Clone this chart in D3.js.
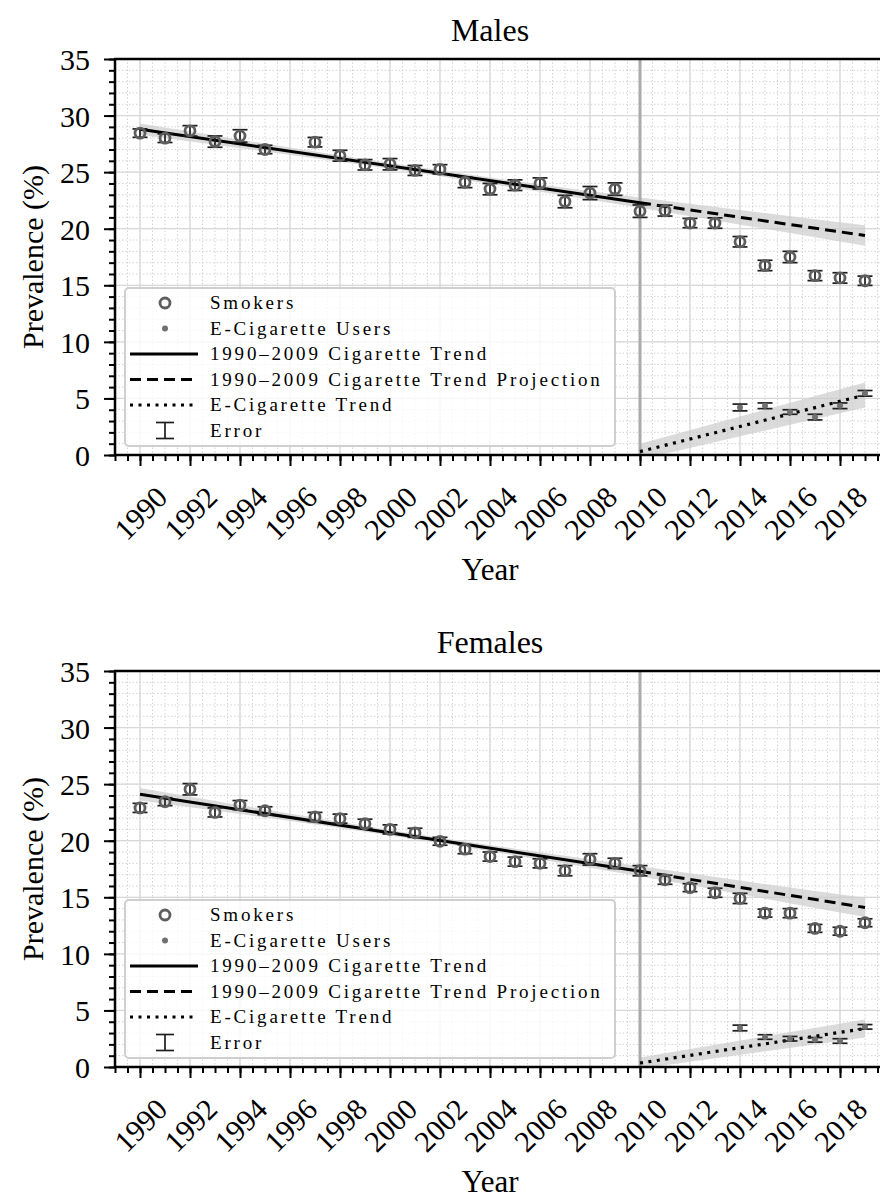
<!DOCTYPE html>
<html>
<head>
<meta charset="utf-8">
<script src="https://cdn.jsdelivr.net/npm/d3@7"></script>
<style>
  body { margin: 0; background: #fff; }
  svg text { font-family: "Liberation Serif", "DejaVu Serif", serif; fill: #000; }
</style>
</head>
<body>
<script>
// data
const years = [1990, 1991, 1992, 1993, 1994, 1995, 1997, 1998, 1999, 2000, 2001, 2002, 2003, 2004,
  2005, 2006, 2007, 2008, 2009, 2010, 2011, 2012, 2013, 2014, 2015, 2016, 2017, 2018, 2019];
const maleSmokers = [28.45, 28.0, 28.65, 27.7, 28.2, 27.0, 27.65, 26.45, 25.65, 25.7, 25.15, 25.25, 24.1, 23.5,
  23.85, 24.0, 22.4, 23.15, 23.5, 21.55, 21.6, 20.5, 20.5, 18.85, 16.75, 17.5, 15.85, 15.65, 15.4];
const maleSmokersErr = [0.37, 0.38, 0.46, 0.5, 0.55, 0.37, 0.42, 0.48, 0.46, 0.5, 0.44, 0.41, 0.47, 0.5,
  0.47, 0.49, 0.55, 0.58, 0.55, 0.55, 0.48, 0.41, 0.46, 0.46, 0.46, 0.5, 0.44, 0.46, 0.41];
const femaleSmokers = [22.9, 23.45, 24.55, 22.5, 23.15, 22.65, 22.1, 21.95, 21.5, 21.0, 20.7, 19.95, 19.25, 18.6,
  18.15, 18.0, 17.35, 18.35, 18.0, 17.35, 16.55, 15.85, 15.4, 14.9, 13.6, 13.6, 12.25, 12.0, 12.75];
const femaleSmokersErr = [0.4, 0.35, 0.5, 0.4, 0.4, 0.35, 0.4, 0.4, 0.4, 0.4, 0.4, 0.35, 0.4, 0.4,
  0.4, 0.4, 0.45, 0.5, 0.45, 0.45, 0.4, 0.35, 0.4, 0.45, 0.35, 0.4, 0.35, 0.35, 0.35];

const ecigYears = [2014, 2015, 2016, 2017, 2018, 2019];
const maleEcig = [4.2, 4.35, 3.8, 3.35, 4.35, 5.45];
const maleEcigErr = [0.3, 0.25, 0.2, 0.25, 0.25, 0.25];
const femaleEcig = [3.45, 2.65, 2.5, 2.4, 2.3, 3.55];
const femaleEcigErr = [0.25, 0.2, 0.2, 0.2, 0.2, 0.2];

// trend lines: 1990-2010 fit, projection to 2019
const trendYears = [1990, 2010, 2019];
const maleTrend = [28.8, 22.3, 19.4];
const femaleTrend = [24.1, 17.3, 14.1];
const bandYears = [1990, 1995, 2000, 2005, 2010, 2015, 2019];
const maleBandHalf = [0.5, 0.35, 0.25, 0.3, 0.45, 0.7, 0.9];
const femaleBandHalf = [0.55, 0.35, 0.25, 0.3, 0.45, 0.65, 0.85];

const ecigTrendYears = [2010, 2019];
const maleEcigTrend = [0.3, 5.3];
const femaleEcigTrend = [0.35, 3.4];
const maleEcigBandHalf = [0.7, 1.1];
const femaleEcigBandHalf = [0.5, 0.8];

const xMajorTicks = d3.range(1990, 2019, 2);
const xMinorTicks = d3.range(1989, 2020.01, 0.5);
const yMajorTicks = [0, 5, 10, 15, 20, 25, 30, 35];
const yMinorTicks = d3.range(0, 36, 1);

const legendLabels = ["Smokers", "E-Cigarette Users", "1990\u20132009 Cigarette Trend",
  "1990\u20132009 Cigarette Trend Projection", "E-Cigarette Trend", "Error"];

// layout
const W = 880, H = 1198;
const left = 115, right = 890;
const plotH = 396;

const svg = d3.select("body").append("svg").attr("width", W).attr("height", H);

let x = d3.scaleLinear().domain([1989, 2020]).range([left, right]);

let panel = (top, title, smokers, smokersErr, ecig, ecigErr, trend, bandHalf, ecigTrend, ecigBandHalf, id) => {
  let y = d3.scaleLinear().domain([0, 35]).range([top + plotH, top]);
  let g = svg.append("g");

  g.append("clipPath").attr("id", "clip" + id)
    .append("rect").attr("x", left).attr("y", top).attr("width", right - left).attr("height", plotH);

  // grid
  let grid = g.append("g");
  grid.selectAll(".vmin").data(xMinorTicks).enter().append("line")
    .attr("x1", d => x(d)).attr("x2", d => x(d)).attr("y1", top).attr("y2", top + plotH)
    .attr("stroke", "#d4d4d4").attr("stroke-width", 1).attr("stroke-dasharray", "1.5,2");
  grid.selectAll(".hmin").data(yMinorTicks).enter().append("line")
    .attr("x1", left).attr("x2", right).attr("y1", d => y(d)).attr("y2", d => y(d))
    .attr("stroke", "#d4d4d4").attr("stroke-width", 1).attr("stroke-dasharray", "1.5,2");
  grid.selectAll(".vmaj").data(xMajorTicks).enter().append("line")
    .attr("x1", d => x(d)).attr("x2", d => x(d)).attr("y1", top).attr("y2", top + plotH)
    .attr("stroke", "#d8d8d8").attr("stroke-width", 1.3);
  grid.selectAll(".hmaj").data(yMajorTicks).enter().append("line")
    .attr("x1", left).attr("x2", right).attr("y1", d => y(d)).attr("y2", d => y(d))
    .attr("stroke", "#d8d8d8").attr("stroke-width", 1.3);

  let plot = g.append("g").attr("clip-path", `url(#clip${id})`);

  // confidence bands
  let trendAt = d3.scaleLinear().domain(trendYears).range(trend);
  let band = bandYears.map((yr, i) => ({ yr: yr, lo: trendAt(yr) - bandHalf[i], hi: trendAt(yr) + bandHalf[i] }));
  let area = d3.area().x(d => x(d.yr)).y0(d => y(d.lo)).y1(d => y(d.hi)).curve(d3.curveMonotoneX);
  plot.append("path").datum(band).attr("d", area).attr("fill", "#cccccc").attr("opacity", 0.7);

  let ecigBand = ecigTrendYears.map((yr, i) => ({ yr: yr, lo: ecigTrend[i] - ecigBandHalf[i], hi: ecigTrend[i] + ecigBandHalf[i] }));
  plot.append("path").datum(ecigBand).attr("d", area).attr("fill", "#cccccc").attr("opacity", 0.7);

  // 2010 marker line
  plot.append("line").attr("x1", x(2010)).attr("x2", x(2010)).attr("y1", top).attr("y2", top + plotH)
    .attr("stroke", "#aaa").attr("stroke-width", 3);

  // trend lines
  let line = d3.line().x(d => x(d[0])).y(d => y(d[1]));
  plot.append("path").attr("d", line([[trendYears[0], trend[0]], [trendYears[1], trend[1]]]))
    .attr("fill", "none").attr("stroke", "#000").attr("stroke-width", 3);
  plot.append("path").attr("d", line([[trendYears[1], trend[1]], [trendYears[2], trend[2]]]))
    .attr("fill", "none").attr("stroke", "#000").attr("stroke-width", 3).attr("stroke-dasharray", "11,6");
  plot.append("path").attr("d", line(ecigTrendYears.map((yr, i) => [yr, ecigTrend[i]])))
    .attr("fill", "none").attr("stroke", "#000").attr("stroke-width", 3.2).attr("stroke-dasharray", "3,5.5");

  // error bars
  let errBars = (yrs, vals, errs) => {
    let eg = plot.append("g").attr("stroke", "#1e1e1e").attr("stroke-width", 1.7);
    yrs.forEach((yr, i) => {
      let cx = x(yr), y1 = y(vals[i] + errs[i]), y2 = y(vals[i] - errs[i]);
      eg.append("line").attr("x1", cx).attr("x2", cx).attr("y1", y1).attr("y2", y2);
      eg.append("line").attr("x1", cx - 7.5).attr("x2", cx + 7.5).attr("y1", y1).attr("y2", y1);
      eg.append("line").attr("x1", cx - 7.5).attr("x2", cx + 7.5).attr("y1", y2).attr("y2", y2);
    });
  };
  errBars(years, smokers, smokersErr);
  errBars(ecigYears, ecig, ecigErr);

  // markers
  plot.selectAll(".smk").data(years).enter().append("circle")
    .attr("cx", d => x(d)).attr("cy", (d, i) => y(smokers[i])).attr("r", 5)
    .attr("fill", "none").attr("stroke", "#5e5e5e").attr("stroke-width", 2.8);
  plot.selectAll(".ecig").data(ecigYears).enter().append("circle")
    .attr("cx", d => x(d)).attr("cy", (d, i) => y(ecig[i])).attr("r", 3)
    .attr("fill", "#707070");

  // axes
  let xAxis = g.append("g").attr("transform", `translate(0,${top + plotH})`)
    .call(d3.axisBottom(x).tickValues(xMajorTicks).tickSize(11).tickFormat(d3.format("d")));
  xAxis.select(".domain").remove();
  xAxis.selectAll("line").attr("stroke-width", 2);
  xAxis.selectAll("text")
    .attr("y", 0).attr("dy", "0.35em").attr("text-anchor", "middle")
    .attr("transform", "translate(0,58) rotate(-45)")
    .style("font-size", "30px");
  let xMinor = g.append("g").attr("transform", `translate(0,${top + plotH})`)
    .call(d3.axisBottom(x).tickValues(xMinorTicks).tickSize(6).tickFormat(""));
  xMinor.select(".domain").remove();
  xMinor.selectAll("line").attr("stroke-width", 2);

  let yAxis = g.append("g").attr("transform", `translate(${left},0)`)
    .call(d3.axisLeft(y).tickValues(yMajorTicks).tickSize(11).tickPadding(14));
  yAxis.select(".domain").remove();
  yAxis.selectAll("line").attr("stroke-width", 2);
  yAxis.selectAll("text").attr("dy", "0.35em").style("font-size", "30px");
  let yMinor = g.append("g").attr("transform", `translate(${left},0)`)
    .call(d3.axisLeft(y).tickValues(yMinorTicks).tickSize(6).tickFormat(""));
  yMinor.select(".domain").remove();
  yMinor.selectAll("line").attr("stroke-width", 2);

  // spines
  g.append("line").attr("x1", left).attr("x2", left).attr("y1", top).attr("y2", top + plotH)
    .attr("stroke", "#000").attr("stroke-width", 2.5);
  g.append("line").attr("x1", left - 1).attr("x2", right).attr("y1", top).attr("y2", top)
    .attr("stroke", "#000").attr("stroke-width", 2.5);
  g.append("line").attr("x1", left - 1).attr("x2", right).attr("y1", top + plotH).attr("y2", top + plotH)
    .attr("stroke", "#000").attr("stroke-width", 2.5);

  // labels
  g.append("text").attr("x", 490).attr("y", top - 18).attr("text-anchor", "middle")
    .style("font-size", "32px").text(title);
  g.append("text").attr("x", 490).attr("y", top + plotH + 125).attr("text-anchor", "middle")
    .style("font-size", "31px").text("Year");
  g.append("text").attr("transform", `translate(43,${top + plotH / 2}) rotate(-90)`)
    .attr("text-anchor", "middle").style("font-size", "30px").text("Prevalence (%)");

  // legend
  let lg = g.append("g").attr("transform", `translate(125,${top + 229})`);
  lg.append("rect").attr("x", 0).attr("y", 0).attr("width", 490).attr("height", 158).attr("rx", 4)
    .attr("fill", "#fff").attr("fill-opacity", 0.82).attr("stroke", "#cfcfcf").attr("stroke-width", 2);
  let rowY = i => 15 + i * 25.5;
  lg.append("circle").attr("cx", 40).attr("cy", rowY(0)).attr("r", 5)
    .attr("fill", "none").attr("stroke", "#5e5e5e").attr("stroke-width", 2.8);
  lg.append("circle").attr("cx", 40).attr("cy", rowY(1)).attr("r", 3).attr("fill", "#707070");
  lg.append("line").attr("x1", 5).attr("x2", 73).attr("y1", rowY(2)).attr("y2", rowY(2))
    .attr("stroke", "#000").attr("stroke-width", 3);
  lg.append("line").attr("x1", 5).attr("x2", 73).attr("y1", rowY(3)).attr("y2", rowY(3))
    .attr("stroke", "#000").attr("stroke-width", 3).attr("stroke-dasharray", "11,6");
  lg.append("line").attr("x1", 5).attr("x2", 73).attr("y1", rowY(4)).attr("y2", rowY(4))
    .attr("stroke", "#000").attr("stroke-width", 3.2).attr("stroke-dasharray", "3,5.5");
  let eh = lg.append("g").attr("stroke", "#1e1e1e").attr("stroke-width", 1.7);
  eh.append("line").attr("x1", 40).attr("x2", 40).attr("y1", rowY(5) - 8).attr("y2", rowY(5) + 8);
  eh.append("line").attr("x1", 31).attr("x2", 49).attr("y1", rowY(5) - 8).attr("y2", rowY(5) - 8);
  eh.append("line").attr("x1", 31).attr("x2", 49).attr("y1", rowY(5) + 8).attr("y2", rowY(5) + 8);
  lg.selectAll(".lbl").data(legendLabels).enter().append("text")
    .attr("x", 85).attr("y", (d, i) => rowY(i) + 6)
    .style("font-size", "19px").style("letter-spacing", "2.8px")
    .text(d => d);
};

panel(59, "Males", maleSmokers, maleSmokersErr, maleEcig, maleEcigErr,
  maleTrend, maleBandHalf, maleEcigTrend, maleEcigBandHalf, "m");
panel(671, "Females", femaleSmokers, femaleSmokersErr, femaleEcig, femaleEcigErr,
  femaleTrend, femaleBandHalf, femaleEcigTrend, femaleEcigBandHalf, "f");
</script>
</body>
</html>
